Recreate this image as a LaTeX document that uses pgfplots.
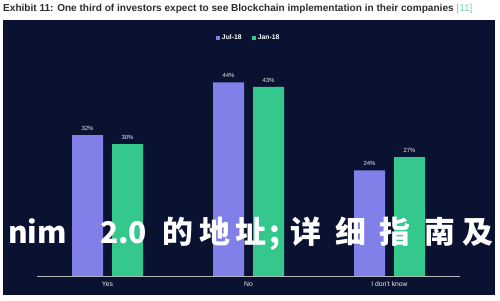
\documentclass[border=0pt]{standalone}
\usepackage{pgfplots}
\pgfplotsset{compat=1.18}
\usepackage{fontspec}
\setmainfont{Liberation Sans}
\newfontfamily\cjk{Noto Sans CJK SC}
\definecolor{panel}{RGB}{10,18,50}
\definecolor{jul}{RGB}{128,128,232}
\definecolor{jan}{RGB}{52,200,140}
\definecolor{ttl}{RGB}{45,45,45}
\definecolor{refc}{RGB}{120,205,190}
\begin{document}
\begin{tikzpicture}[x=1bp,y=1bp]
\fill[white] (0,0) rectangle (500,300);
\useasboundingbox (0,0) rectangle (500,300);
\fill[panel] (3,5) rectangle (495,280);
\node[anchor=west,inner sep=0pt,text=ttl,font=\fontsize{10.1}{11}\selectfont\bfseries] at (3,291)
  {Exhibit 11: One third of investors expect to see Blockchain implementation in their companies \textcolor{refc}{\mdseries[11]}};
\begin{axis}[
  at={(37bp,24bp)}, anchor=south west,
  scale only axis, width=423bp, height=220bp,
  xmin=-0.5, xmax=2.5, ymin=0, ymax=50,
  axis x line*=bottom, axis y line=none,
  x axis line style={draw=gray!55, line width=0.5pt},
  ybar=9bp, bar width=31bp,
  xtick={0,1,2}, xticklabels={\mbox{Yes},\mbox{No},\mbox{I don’t know}},
  major tick length=0pt,
  xticklabel style={text=white!85!gray, font=\fontsize{6.8}{7}\selectfont, yshift=-2pt},
  ytick=\empty,
  /pgf/number format/assume math mode=true,
  nodes near coords={\pgfmathprintnumber{\pgfplotspointmeta}\%},
  nodes near coords style={text=white!85!gray, font=\fontsize{6}{7}\selectfont, yshift=1pt},
  legend columns=2,
  legend style={at={(0.5,1.082)}, anchor=center, draw=none, fill=none,
    text=white, font=\fontsize{6.8}{8}\selectfont\bfseries,
    /tikz/every even column/.append style={column sep=8bp}},
  legend image code/.code={\fill[#1] (0bp,-2.2bp) rectangle (4.4bp,2.2bp);},
]
\addplot[fill=jul, draw=none] coordinates {(0,32) (1,44) (2,24)};
\addplot[fill=jan, draw=none] coordinates {(0,30) (1,43) (2,27)};
\legend{Jul-18,Jan-18}
\end{axis}
\node[anchor=base west,inner sep=0pt,text=white,font=\cjk\bfseries\fontsize{30}{32}\selectfont] at (8,57) {nim};
\node[anchor=base west,inner sep=0pt,text=white,font=\cjk\bfseries\fontsize{30}{32}\selectfont] at (100,57) {2.0};
\node[anchor=base west,inner sep=0pt,text=white,font=\cjk\bfseries\fontsize{31}{32}\selectfont] at (162,57) {的\hspace{6bp}地\hspace{6bp}址\hspace{3bp};\hspace{10bp}详\hspace{14bp}细\hspace{13bp}指\hspace{14bp}南\hspace{7bp}及};
\end{tikzpicture}
\end{document}
